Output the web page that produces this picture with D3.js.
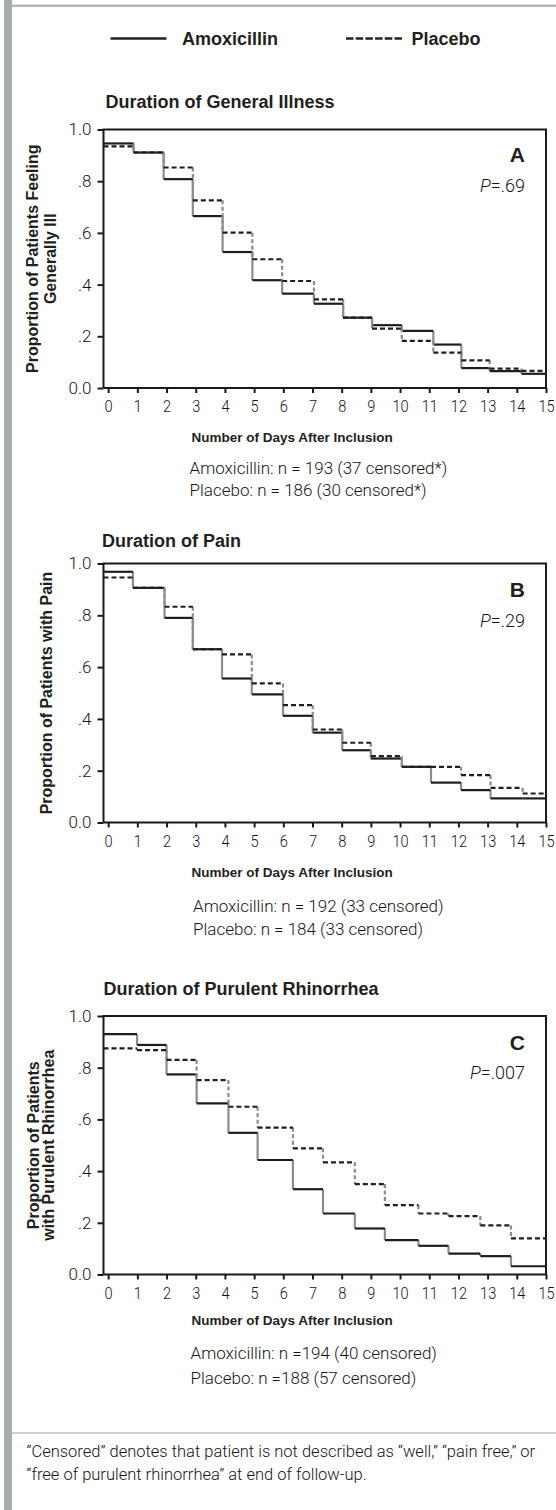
<!DOCTYPE html>
<html>
<head>
<meta charset="utf-8">
<script src="https://cdn.jsdelivr.net/npm/d3@7.9.0/dist/d3.min.js"></script>
<style>
  body { margin: 0; background: #fff; }
  svg { display: block; }
  .light { font-family: Roboto, 'Liberation Sans', sans-serif; font-weight: 300; fill: #151515; }
  .bold { font-family: 'Liberation Sans', Arial, sans-serif; font-weight: bold; fill: #231f20; }
  .tick text { font-family: Roboto, 'Liberation Sans', sans-serif; font-weight: 300; font-size: 17px; fill: #151515; }
  .tick line { stroke: #1a1a1a; stroke-width: 2; }
</style>
</head>
<body>
<svg id="chart" width="556" height="1510"></svg>
<script>
// ---- data ----
const seriesNames = ['Amoxicillin', 'Placebo'];

const daysA = [0, 0.87, 1.9, 2.9, 3.92, 4.94, 5.96, 7.05, 8.05, 9.04, 10.06, 11.14, 12.1, 13.07, 14.16, 15];
const amoxA = [0.946, 0.911, 0.808, 0.665, 0.526, 0.417, 0.365, 0.326, 0.272, 0.243, 0.221, 0.168, 0.077, 0.065, 0.055, 0.055];
const placeboA = [0.935, 0.911, 0.853, 0.726, 0.601, 0.498, 0.414, 0.343, 0.272, 0.230, 0.182, 0.137, 0.107, 0.075, 0.066, 0.066];

const daysB = [0, 0.85, 1.93, 2.9, 3.9, 4.92, 5.99, 7.01, 8.02, 9.0, 10.06, 11.06, 12.09, 13.1, 14.2, 15];
const amoxB = [0.968, 0.906, 0.79, 0.669, 0.556, 0.495, 0.412, 0.347, 0.279, 0.247, 0.215, 0.154, 0.125, 0.093, 0.093, 0.093];
const placeboB = [0.946, 0.906, 0.833, 0.669, 0.649, 0.537, 0.453, 0.359, 0.308, 0.256, 0.215, 0.215, 0.183, 0.134, 0.112, 0.112];

const daysC = [0, 0.99, 2.0, 3.03, 4.12, 5.12, 6.33, 7.36, 8.45, 9.48, 10.63, 11.66, 12.75, 13.8, 15];
const amoxC = [0.930, 0.888, 0.774, 0.662, 0.548, 0.443, 0.330, 0.236, 0.178, 0.133, 0.111, 0.081, 0.071, 0.032, 0.032];
const placeboC = [0.875, 0.868, 0.830, 0.752, 0.649, 0.568, 0.488, 0.434, 0.350, 0.268, 0.236, 0.226, 0.190, 0.140, 0.140];

const xTicks = d3.range(0, 16);
const yTicks = [0, 0.2, 0.4, 0.6, 0.8, 1];

const panelTitles = ['Duration of General Illness', 'Duration of Pain', 'Duration of Purulent Rhinorrhea'];
const panelLetters = ['A', 'B', 'C'];
const pValues = ['.69', '.29', '.007'];
const yTitles = [
  ['Proportion of Patients Feeling', 'Generally Ill'],
  ['Proportion of Patients with Pain'],
  ['Proportion of Patients', 'with Purulent Rhinorrhea']
];
const xTitle = 'Number of Days After Inclusion';
const nLines = [
  ['Amoxicillin: n = 193 (37 censored*)', 'Placebo: n = 186 (30 censored*)'],
  ['Amoxicillin: n = 192 (33 censored)', 'Placebo: n = 184 (33 censored)'],
  ['Amoxicillin: n =194 (40 censored)', 'Placebo: n =188 (57 censored)']
];
const footnote = [
  '\u201cCensored\u201d denotes that patient is not described as \u201cwell,\u201d \u201cpain free,\u201d or',
  '\u201cfree of purulent rhinorrhea\u201d at end of follow-up.'
];

const panelData = [
  { days: daysA, series: [amoxA, placeboA] },
  { days: daysB, series: [amoxB, placeboB] },
  { days: daysC, series: [amoxC, placeboC] }
];

// ---- layout ----
const svg = d3.select('#chart');
const left = 103.5, right = 546;
const layout = [
  { top: 129.5, bottom: 388, title: 108, titleX: 105.5, letter: 162, p: 191.5, xt: 441.5, n: [473.5, 496], nX: 189.5, yt: [32.5, 50] },
  { top: 563.5, bottom: 822.5, title: 547, titleX: 102, letter: 597, p: 627, xt: 876.5, n: [912, 934.5], nX: 193, yt: [46] },
  { top: 1016, bottom: 1274.5, title: 994.5, titleX: 103.5, letter: 1049.5, p: 1078.5, xt: 1325, n: [1358.5, 1384], nX: 190.5, yt: [33, 48.5] }
];

const x = d3.scaleLinear().domain([-0.16, 15]).range([left, right]);

// page frame
svg.append('rect').attr('x', 4).attr('y', 0).attr('width', 8).attr('height', 1510).attr('fill', '#a9adb0');
svg.append('rect').attr('x', 12).attr('y', 4.5).attr('width', 544).attr('height', 2.5).attr('fill', '#b4b8ba');
svg.append('rect').attr('x', 12).attr('y', 1432).attr('width', 544).attr('height', 2).attr('fill', '#cdd1d1');

// legend
const legend = svg.append('g');
legend.append('line').attr('x1', 110.5).attr('x2', 166.5).attr('y1', 38.5).attr('y2', 38.5)
  .attr('stroke', '#222').attr('stroke-width', 2.5);
legend.append('text').attr('class', 'bold').attr('x', 182).attr('y', 45).attr('font-size', 18).text(seriesNames[0]);
legend.append('line').attr('x1', 346).attr('x2', 402).attr('y1', 38.5).attr('y2', 38.5)
  .attr('stroke', '#222').attr('stroke-width', 2.5).attr('stroke-dasharray', '7.5,2.2');
legend.append('text').attr('class', 'bold').attr('x', 411.5).attr('y', 45).attr('font-size', 18).text(seriesNames[1]);

const yFmt = d => d === 0 ? '0.0' : d === 1 ? '1.0' : d3.format('.1f')(d).replace(/^0/, '');

panelData.forEach((pd, i) => {
  const L = layout[i];
  const y = d3.scaleLinear().domain([0, 1]).range([L.bottom, L.top]);
  const g = svg.append('g');

  g.append('text').attr('class', 'bold').attr('x', L.titleX).attr('y', L.title)
    .attr('font-size', 18).text(panelTitles[i]);

  // axes
  const ya = g.append('g').attr('transform', `translate(${left},0)`)
    .call(d3.axisLeft(y).tickValues(yTicks).tickFormat(yFmt).tickSize(6).tickPadding(6));
  ya.select('.domain').remove();
  const xa = g.append('g').attr('transform', `translate(0,${L.bottom})`)
    .call(d3.axisBottom(x).tickValues(xTicks).tickSize(5).tickPadding(7));
  xa.select('.domain').remove();
  // condensed look of the original's tick digits
  xa.selectAll('.tick text').attr('transform', 'scale(0.86,1)');

  // frame
  g.append('path')
    .attr('d', `M${left},${L.bottom}V${L.top}H${right}V${L.bottom}H${left}`)
    .attr('fill', 'none').attr('stroke', '#1a1a1a').attr('stroke-width', 2);

  // curves: drops drawn lighter, as in the scanned original
  pd.series.forEach((vals, s) => {
    const t = [x.domain()[0]].concat(pd.days.slice(1));
    const drops = d3.range(1, t.length).map(k => [t[k], vals[k - 1], vals[k]]);
    const flats = d3.range(0, t.length - 1).map(k => [t[k], t[k + 1], vals[k]]);
    const dash = s === 1 ? '4,2.5' : null;
    g.selectAll(null).data(drops).join('line')
      .attr('x1', d => x(d[0])).attr('x2', d => x(d[0]))
      .attr('y1', d => y(d[1])).attr('y2', d => y(d[2]))
      .attr('stroke', '#8c8c8c').attr('stroke-width', 2.2)
      .attr('stroke-dasharray', dash);
    g.selectAll(null).data(flats).join('line')
      .attr('x1', d => x(d[0])).attr('x2', d => x(d[1]))
      .attr('y1', d => y(d[2])).attr('y2', d => y(d[2]))
      .attr('stroke', '#1e1e1e').attr('stroke-width', 2.2)
      .attr('stroke-dasharray', s === 1 ? '5,3' : null);
  });

  // letter & p value
  g.append('text').attr('class', 'bold').attr('x', 525).attr('y', L.letter)
    .attr('text-anchor', 'end').attr('font-size', 21).text(panelLetters[i]);
  const pt = g.append('text').attr('class', 'light').attr('x', 525).attr('y', L.p)
    .attr('text-anchor', 'end').attr('font-size', 18);
  pt.append('tspan').attr('font-style', 'italic').text('P');
  pt.append('tspan').text('=' + pValues[i]);

  // y title
  const cy = (L.top + L.bottom) / 2;
  yTitles[i].forEach((t, k) => {
    g.append('text').attr('class', 'bold').attr('font-size', 16)
      .attr('text-anchor', 'middle').attr('dy', '0.35em')
      .attr('transform', `translate(${L.yt[k]},${cy}) rotate(-90)`).text(t);
  });

  // x title and counts
  g.append('text').attr('class', 'bold').attr('x', 191.5).attr('y', L.xt)
    .attr('font-size', 13.5).text(xTitle);
  nLines[i].forEach((t, k) => {
    g.append('text').attr('class', 'light').attr('x', L.nX).attr('y', L.n[k])
      .attr('font-size', 17).text(t);
  });
});

footnote.forEach((t, k) => {
  svg.append('text').attr('class', 'light').attr('x', 26.5).attr('y', 1457 + k * 23)
    .attr('font-size', 16.5).text(t);
});
</script>
</body>
</html>
